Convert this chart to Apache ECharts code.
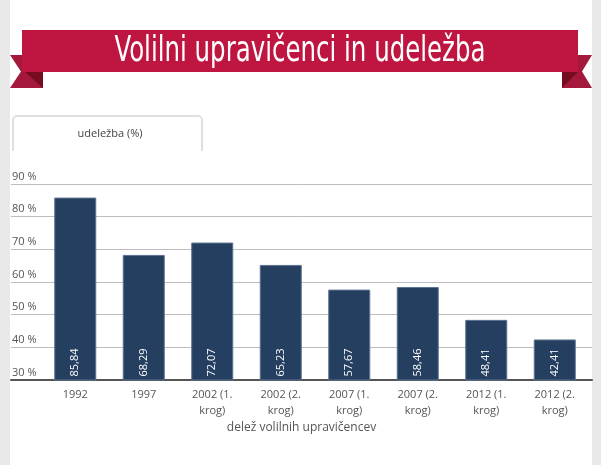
<!DOCTYPE html>
<html><head><meta charset="utf-8">
<script src="https://cdn.jsdelivr.net/npm/echarts@6/dist/echarts.min.js"></script>
<style>html,body{margin:0;padding:0;background:#fff}#c{width:601px;height:465px}</style>
</head><body><div id="c"></div>
<script>
const titleText = 'Volilni upravičenci in udeležba';
const tabText = 'udeležba (%)';
const axisName = 'delež volilnih upravičencev';
const categories = ['1992','1997','2002 (1. krog)','2002 (2. krog)','2007 (1. krog)','2007 (2. krog)','2012 (1. krog)','2012 (2. krog)'];
const turnout = [85.84, 68.29, 72.07, 65.23, 57.67, 58.46, 48.41, 42.41];
const yTicks = [30, 40, 50, 60, 70, 80, 90];

const FONT = '"Open Sans", "Noto Sans", sans-serif';
const TFONT = '"Liberation Sans Narrow", "DejaVu Sans Condensed", sans-serif';

// fit title width
const cv = document.createElement('canvas').getContext('2d');
cv.font = '35px ' + TFONT;
const tw = cv.measureText(titleText).width;
const tScale = 371 / tw;

const chart = echarts.init(document.getElementById('c'));
chart.setOption({
  animation: false,
  backgroundColor: '#fff',
  graphic: [
    {type:'rect', shape:{x:0,y:0,width:10,height:465}, style:{fill:'#e9e9e9'}, silent:true},
    {type:'rect', shape:{x:592,y:0,width:9,height:465}, style:{fill:'#e9e9e9'}, silent:true},
    // left tail
    {type:'polygon', shape:{points:[[10,55],[43,55],[43,88],[10,88],[21,71.5]]}, style:{fill:'#a3183b'}},
    {type:'polygon', shape:{points:[[25,72],[43,72],[43,88]]}, style:{fill:'#760c20'}},
    // right tail
    {type:'polygon', shape:{points:[[592,55],[562,55],[562,88],[592,88],[582,71.5]]}, style:{fill:'#a3183b'}},
    {type:'polygon', shape:{points:[[578,72],[562,72],[562,88]]}, style:{fill:'#760c20'}},
    // main banner
    {type:'rect', shape:{x:22,y:30,width:556,height:42}, style:{fill:'#be1641'}},
    {type:'text', x:300, y:52, originX:0, originY:0, scaleX:tScale,
      style:{text:titleText, fill:'#fff', font:'35px ' + TFONT, align:'center', verticalAlign:'middle'}, z:10},
    // tab
    {type:'rect', shape:{x:13,y:116,width:189,height:40,r:[4,4,0,0]}, style:{fill:'#fff', stroke:'#e0e0e0', lineWidth:2}},
    {type:'rect', shape:{x:11,y:151,width:194,height:10}, style:{fill:'#fff'}},
    {type:'text', x:110, y:134, style:{text:tabText, fill:'#444', font:'11px ' + FONT, align:'center', verticalAlign:'middle'}}
  ],
  grid: [
    {left:11, right:9, top:184, bottom:85},
    {left:41, right:12, top:184, bottom:85}
  ],
  xAxis: [
    {type:'value', gridIndex:0, min:0, max:1, axisLabel:{show:false}, axisTick:{show:false}, splitLine:{show:false},
     axisLine:{show:true, onZero:false, lineStyle:{color:'#555', width:2}},
     name:axisName, nameLocation:'middle', nameGap:42, nameTextStyle:{color:'#555', fontSize:12, fontFamily:FONT}},
    {type:'category', gridIndex:1, data:categories, axisLine:{show:false}, axisTick:{show:false},
     axisLabel:{color:'#555', fontSize:11, fontFamily:FONT, margin:7, lineHeight:16, interval:0,
       formatter: v => v.replace(' krog', '\nkrog')}}
  ],
  yAxis: [
    {type:'value', gridIndex:0, min:yTicks[0], max:yTicks[yTicks.length-1], interval:10,
     axisLine:{show:false}, axisTick:{show:false},
     splitLine:{show:true, lineStyle:{color:'#bdbdbd', width:1}},
     axisLabel:{inside:true, margin:1, verticalAlign:'bottom', align:'left', color:'#555', fontSize:11, fontFamily:FONT,
       padding:[0,0,2,0], formatter: v => v + ' %'}},
    {type:'value', gridIndex:1, min:yTicks[0], max:yTicks[yTicks.length-1], interval:10, show:false}
  ],
  series: [{
    type:'bar', xAxisIndex:1, yAxisIndex:1, data:turnout, barWidth:42,
    itemStyle:{color:'#243f60', borderColor:'#5d7290', borderWidth:1},
    label:{show:true, position:'insideBottom', rotate:90, align:'left', verticalAlign:'middle', distance:4,
      color:'#fff', fontSize:11, fontFamily:FONT,
      formatter: p => String(p.value).replace('.', ',')}
  }]
});
</script></body></html>
